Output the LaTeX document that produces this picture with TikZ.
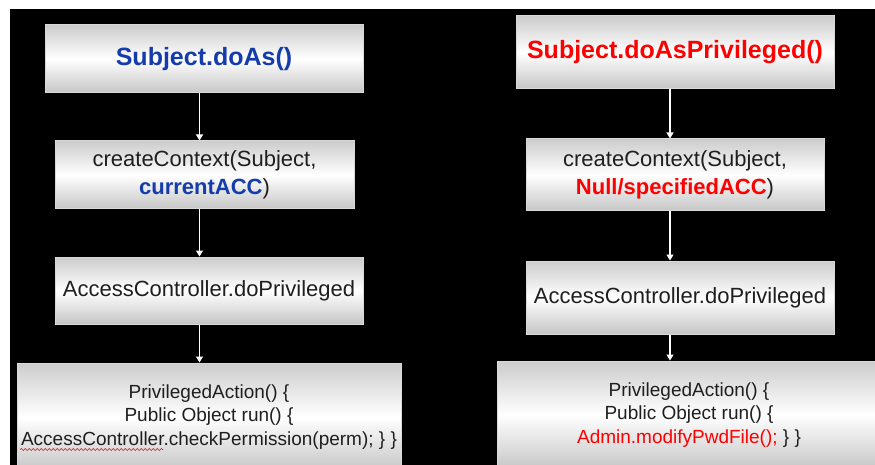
\documentclass[tikz,border=0pt]{standalone}
\usepackage{fontspec}
\setmainfont{Liberation Sans}
\usetikzlibrary{arrows.meta,decorations.pathmorphing}
\definecolor{callblue}{RGB}{20,60,170}
\definecolor{callred}{RGB}{255,0,0}
\begin{document}
\begin{tikzpicture}[x=1pt,y=-1pt,
  stepbox/.style={draw=gray!30, line width=1pt, top color=gray!40,
    bottom color=gray!45, middle color=white, inner sep=0pt,
    align=center, text=black!88},
  flow/.style={white, line width=1.2pt, -{Triangle[width=7pt,length=6pt]}},
  titlefont/.style={font=\fontsize{25}{30}\selectfont\bfseries},
  midfont/.style={font=\fontsize{22}{28}\selectfont},
  codefont/.style={font=\fontsize{19}{23.5}\selectfont}]
\useasboundingbox (0,0) rectangle (875,465);
\clip (0,0) rectangle (875,465);
\fill[white] (0,0) rectangle (875,465);
\fill[black] (10,9) rectangle (875,465);

% left column: Subject.doAs()
\node[stepbox, titlefont, minimum width=318pt, minimum height=68pt] (l1) at (204,59)
  {\textcolor{callblue}{Subject.doAs()}};
\node[stepbox, midfont, minimum width=299pt, minimum height=68pt] (l2) at (204.5,175)
  {createContext(Subject,\\\textcolor{callblue}{\bfseries currentACC})};
\node[stepbox, midfont, minimum width=308pt, minimum height=67pt] (l3) at (209,290.5)
  {AccessController.doPrivileged};
\node[stepbox, codefont, minimum width=384pt, minimum height=108pt] (l4) at (209,417)
  {PrivilegedAction() \{\\Public Object run() \{\\AccessController.checkPermission(perm); \} \}};
\coordinate (lx) at (199.5,0);
\draw[flow] (l1.south -| lx) -- (l2.north -| lx);
\draw[flow] (l2.south -| lx) -- (l3.north -| lx);
\draw[flow] (l3.south -| lx) -- (l4.north -| lx);
\draw[red, line width=0.6pt, decorate, decoration={snake, amplitude=1pt, segment length=4pt}]
  (20,449.5) -- (163,449.5);

% right column: Subject.doAsPrivileged()
\node[stepbox, titlefont, minimum width=318pt, minimum height=73pt] (r1) at (675,52.5)
  {\textcolor{callred}{Subject.doAsPrivileged()}};
\node[stepbox, midfont, minimum width=298pt, minimum height=72pt] (r2) at (675,175)
  {createContext(Subject,\\\textcolor{callred}{\bfseries Null/specifiedACC})};
\node[stepbox, midfont, minimum width=308pt, minimum height=73pt] (r3) at (680,297.5)
  {AccessController.doPrivileged};
\node[stepbox, codefont, minimum width=384pt, minimum height=108pt] (r4) at (689,415)
  {PrivilegedAction() \{\\Public Object run() \{\\\textcolor{callred}{Admin.modifyPwdFile();} \} \}};
\coordinate (rx) at (670,0);
\draw[flow] (r1.south -| rx) -- (r2.north -| rx);
\draw[flow] (r2.south -| rx) -- (r3.north -| rx);
\draw[flow] (r3.south -| rx) -- (r4.north -| rx);
\end{tikzpicture}
\end{document}
